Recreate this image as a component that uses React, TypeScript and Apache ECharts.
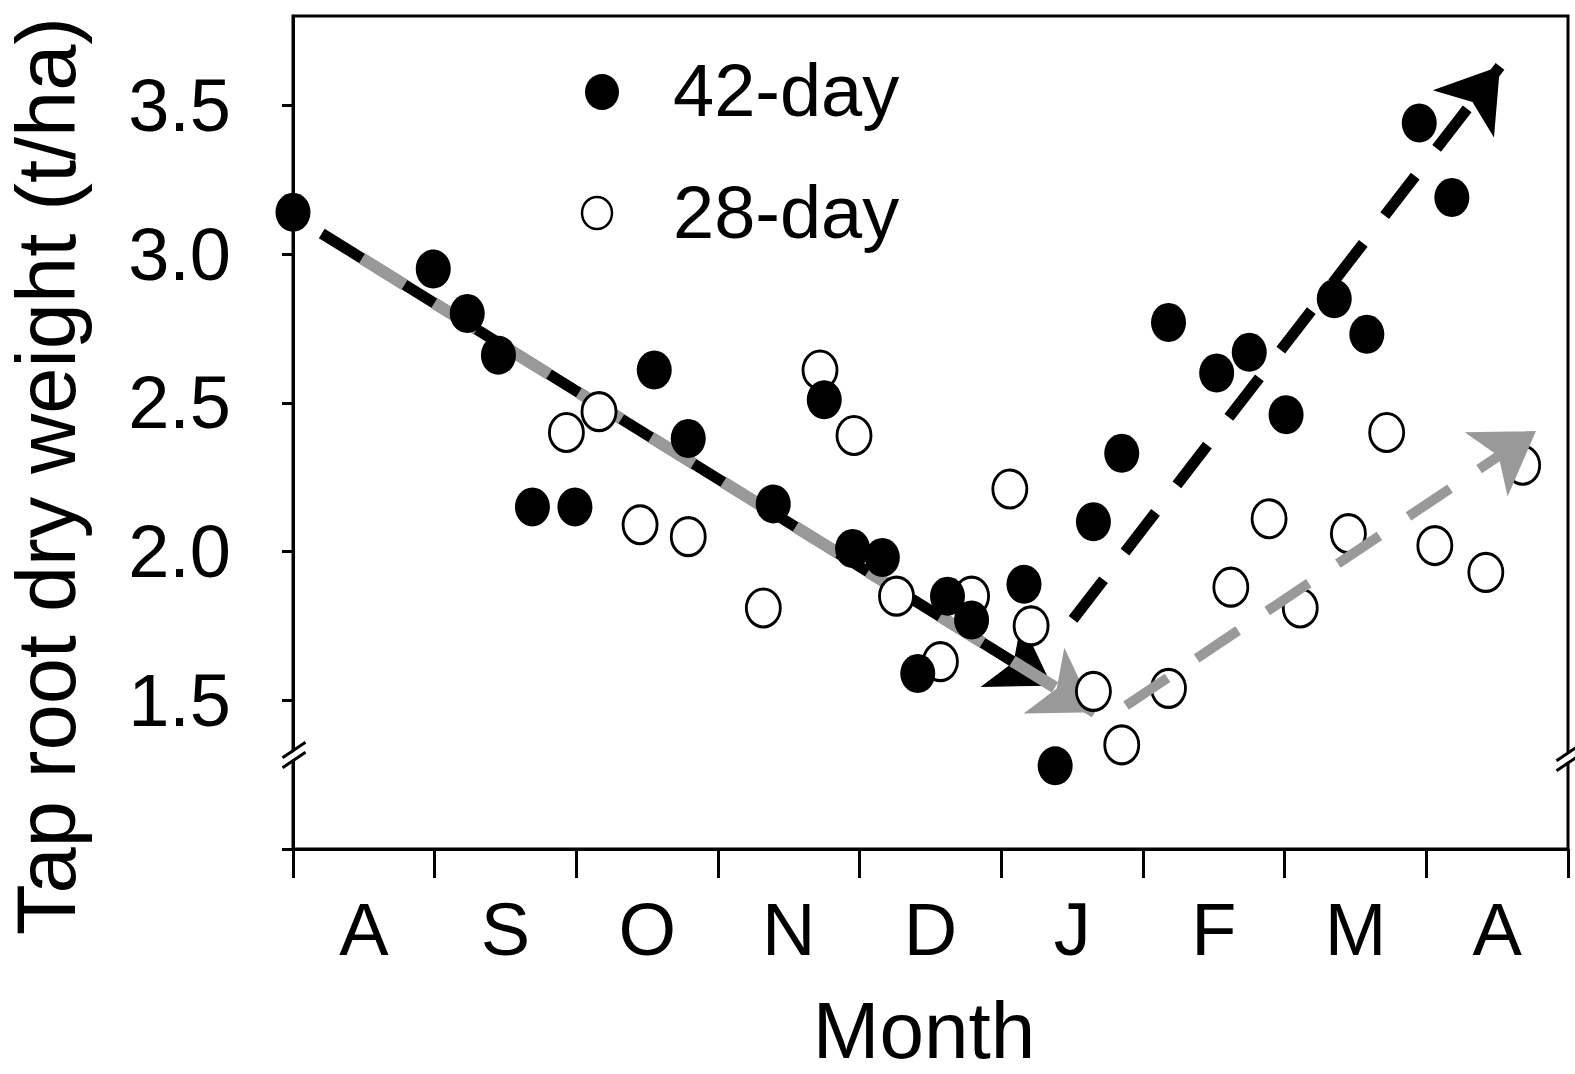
import React, { useEffect, useRef } from 'react';
import * as echarts from 'echarts';

const months = ['A', 'S', 'O', 'N', 'D', 'J', 'F', 'M', 'A'];
const yTickValues = [1, 1.5, 2, 2.5, 3, 3.5];
const yLabelValues = [1.5, 2, 2.5, 3, 3.5];

const day42 = [
  [0.0, 3.14], [0.99, 2.95], [1.23, 2.8], [1.45, 2.66], [1.69, 2.15], [1.99, 2.15],
  [2.55, 2.61], [2.79, 2.38], [3.39, 2.16], [3.75, 2.51], [3.95, 2.01], [4.16, 1.98],
  [4.41, 1.59], [4.62, 1.85], [4.79, 1.77], [5.16, 1.89], [5.38, 1.28], [5.65, 2.1],
  [5.85, 2.33], [6.18, 2.77], [6.52, 2.6], [6.75, 2.67], [7.01, 2.46], [7.35, 2.85],
  [7.58, 2.73], [7.95, 3.44], [8.18, 3.19],
];

const day28 = [
  [1.93, 2.4], [2.16, 2.47], [2.45, 2.09], [2.79, 2.05], [3.32, 1.81], [3.72, 2.61],
  [3.96, 2.39], [4.26, 1.85], [4.57, 1.63], [4.79, 1.85], [5.06, 2.21], [5.21, 1.75],
  [5.65, 1.53], [5.85, 1.35], [6.18, 1.54], [6.62, 1.88], [6.89, 2.11], [7.11, 1.81],
  [7.45, 2.06], [7.72, 2.4], [8.06, 2.02], [8.42, 1.93], [8.68, 2.29],
];

// trend arrows: [start, arrow tip] in data units
const trend42Down = [[0.203, 3.069], [5.357, 1.549]];
const trend28Down = [[0.487, 2.985], [5.661, 1.46]];
const trend42Up = [[5.506, 1.772], [8.52, 3.631]];
const trend28Up = [[5.88, 1.482], [8.774, 2.405]];

const FONT = "'Liberation Sans', Arial, sans-serif";
const ELLIPSE =
  'path://M0,-1C0.5523,-1 1,-0.5523 1,0C1,0.5523 0.5523,1 0,1C-0.5523,1 -1,0.5523 -1,0C-1,-0.5523 -0.5523,-1 0,-1Z';

function trendSeries(pts: number[][], color: string, width: number, dash: any, z: number) {
  return {
    type: 'line',
    xAxisIndex: 1,
    yAxisIndex: 0,
    data: [],
    silent: true,
    markLine: {
      z,
      silent: true,
      animation: false,
      symbol: ['none', 'arrow'],
      symbolSize: [58, 60],
      label: { show: false },
      emphasis: { disabled: true },
      lineStyle: { color, width, type: dash, cap: 'butt' },
      itemStyle: { color },
      data: [[{ coord: pts[0] }, { coord: pts[1] }]],
    },
  };
}

function breakMark(cx: number, cy: number) {
  const dx = 11.5;
  const dy = 7.8;
  const gap = 5;
  return [
    {
      type: 'polygon',
      z: 50,
      shape: {
        points: [
          [cx - dx, cy + dy - gap + 1.5],
          [cx + dx, cy - dy - gap + 1.5],
          [cx + dx, cy - dy + gap - 1.5],
          [cx - dx, cy + dy + gap - 1.5],
        ],
      },
      style: { fill: '#fff' },
    },
    {
      type: 'line',
      z: 51,
      shape: { x1: cx - dx, y1: cy + dy - gap, x2: cx + dx, y2: cy - dy - gap },
      style: { stroke: '#000', lineWidth: 3 },
    },
    {
      type: 'line',
      z: 51,
      shape: { x1: cx - dx, y1: cy + dy + gap, x2: cx + dx, y2: cy - dy + gap },
      style: { stroke: '#000', lineWidth: 3 },
    },
  ];
}

function txt(text: string, x: number, y: number, size: number, align: string, extra: any = {}) {
  return {
    type: 'text',
    z: 60,
    x,
    y,
    ...extra,
    style: {
      text,
      x: 0,
      y: 0,
      fontSize: size,
      fontFamily: FONT,
      fill: '#000',
      align,
      verticalAlign: 'middle',
      textAlign: align,
      textVerticalAlign: 'middle',
    },
  };
}

export default function App() {
  const ref = useRef<HTMLDivElement>(null);
  useEffect(() => {
    const chart = echarts.init(ref.current!, null, { renderer: 'svg' });
    const axisLine = { show: true, lineStyle: { color: '#000', width: 3 } };
    chart.setOption({
      animation: false,
      backgroundColor: '#fff',
      grid: {
        left: 293,
        right: 7,
        top: 16,
        bottom: 225,
        show: true,
        borderColor: '#000',
        borderWidth: 3,
        backgroundColor: 'transparent',
      },
      xAxis: [
        {
          type: 'category',
          data: months,
          boundaryGap: true,
          position: 'bottom',
          axisLine,
          axisTick: { show: true, length: 29, inside: false, lineStyle: { color: '#000', width: 3 } },
          axisLabel: { fontSize: 74, fontFamily: FONT, color: '#000', margin: 43, interval: 0 },
          splitLine: { show: false },
        },
        {
          type: 'value',
          min: 0,
          max: 9,
          show: false,
          splitLine: { show: false },
        },
      ],
      yAxis: [
        {
          type: 'value',
          min: 1,
          max: 3.8,
          interval: 0.5,
          axisLine,
          axisTick: {
            show: true,
            length: 11,
            inside: false,
            customValues: yTickValues,
            lineStyle: { color: '#000', width: 3 },
          },
          axisLabel: {
            fontSize: 74,
            fontFamily: FONT,
            color: '#000',
            margin: 62,
            customValues: yLabelValues,
            formatter: (v: number) =>
              yLabelValues.some((t) => Math.abs(t - v) < 1e-6) ? v.toFixed(1) : '',
          },
          splitLine: { show: false },
        },
      ],
      series: [
        trendSeries(trend42Down, '#000', 11, 'solid', 1),
        trendSeries(trend28Down, '#999', 12, [50, 35], 2),
        trendSeries(trend42Up, '#000', 11, [50, 35], 2),
        {
          type: 'scatter',
          name: '28-day',
          xAxisIndex: 1,
          yAxisIndex: 0,
          z: 3,
          silent: true,
          symbol: ELLIPSE,
          symbolSize: [34, 38],
          itemStyle: { color: '#fff', borderColor: '#000', borderWidth: 3, opacity: 1 },
          emphasis: { disabled: true },
          data: day28,
        },
        {
          type: 'scatter',
          name: '42-day',
          xAxisIndex: 1,
          yAxisIndex: 0,
          z: 4,
          silent: true,
          symbol: ELLIPSE,
          symbolSize: [35, 39],
          itemStyle: { color: '#000', opacity: 1 },
          emphasis: { disabled: true },
          data: day42,
        },
        trendSeries(trend28Up, '#999', 10, [50, 35], 6),
      ],
      graphic: [
        ...breakMark(294, 755),
        ...breakMark(1568, 758),
        {
          type: 'ellipse',
          z: 60,
          shape: { cx: 602, cy: 92, rx: 17, ry: 18 },
          style: { fill: '#000' },
        },
        {
          type: 'ellipse',
          z: 60,
          shape: { cx: 597, cy: 213, rx: 15, ry: 16 },
          style: { fill: '#fff', stroke: '#000', lineWidth: 2.5 },
        },
        txt('42-day', 673, 90, 74, 'left'),
        txt('28-day', 673, 212, 74, 'left'),
        txt('Month', 924, 1030, 80, 'center'),
        txt('Tap root dry weight (t/ha)', 46, 476, 83, 'center', { rotation: Math.PI / 2 }),
      ],
    });
    return () => chart.dispose();
  }, []);
  return (
    <div
      ref={ref}
      style={{ position: 'fixed', left: 0, top: 0, width: 1575, height: 1074, background: '#fff' }}
    />
  );
}
